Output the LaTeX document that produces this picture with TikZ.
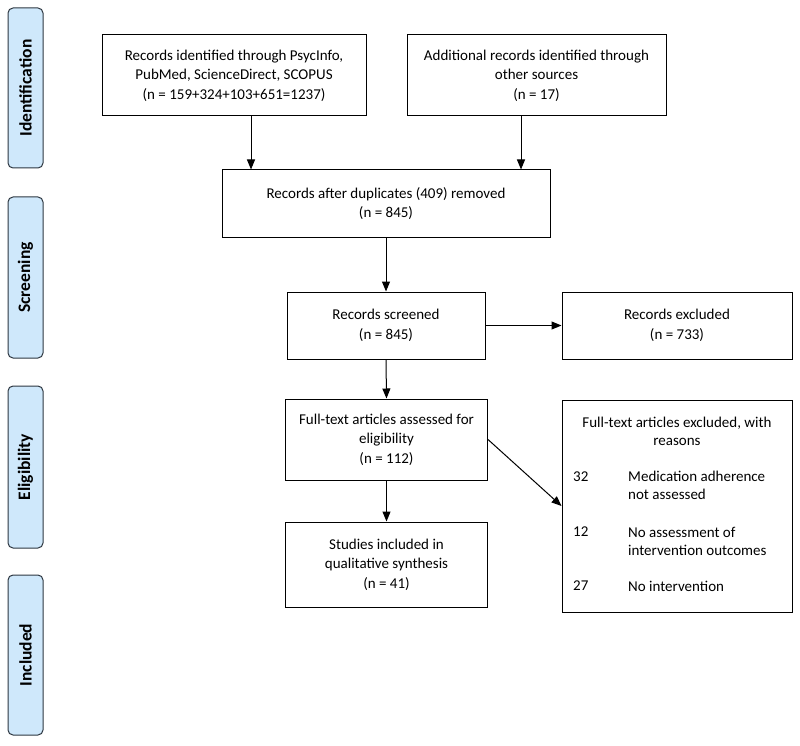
\documentclass[tikz,border=0pt]{standalone}
\usepackage{fontspec}
\setmainfont{Carlito}
\usetikzlibrary{arrows.meta}
\definecolor{sidefill}{RGB}{207,232,251}
\definecolor{sidedraw}{RGB}{45,55,65}
\begin{document}
\begin{tikzpicture}[x=1pt,y=-1pt,
  box/.style={draw, line width=1pt, rectangle, inner sep=0pt, align=center,
    font=\fontsize{15}{19.5}\selectfont},
  side/.style={draw=sidedraw, fill=sidefill, rounded corners=5pt, line width=1pt,
    rotate=90, minimum height=35pt, inner sep=0pt,
    font=\bfseries\fontsize{17.5}{20}\selectfont},
  txt/.style={inner sep=0pt, font=\fontsize{15}{18}\selectfont},
  arr/.style={-{Triangle[length=10pt,width=8pt]}, line width=1pt}]
\useasboundingbox (0,0) rectangle (800,746);

% side labels
\node[side, minimum width=160pt] (sid) at (25.5,88) {Identification};
\node[side, minimum width=161pt] (ssc) at (25.5,277.5) {Screening};
\node[side, minimum width=162pt] (sel) at (25.5,467) {Eligibility};
\node[side, minimum width=160pt] (sin) at (25.5,655) {Included};

% boxes
\node[box, minimum width=264pt, minimum height=81pt] (b1) at (234,75.5)
  {Records identified through PsycInfo,\\PubMed, ScienceDirect, SCOPUS\\(n = 159+324+103+651=1237)};
\node[box, minimum width=259pt, minimum height=81pt] (b2) at (536.5,75.5)
  {Additional records identified through\\other sources\\(n = 17)};
\node[box, minimum width=328pt, minimum height=67pt] (b3) at (386,203.5)
  {Records after duplicates (409) removed\\(n = 845)};
\node[box, minimum width=198pt, minimum height=67pt] (b4) at (386,325.5)
  {Records screened\\(n = 845)};
\node[box, minimum width=230pt, minimum height=67pt] (ex1) at (677,325.5)
  {Records excluded\\(n = 733)};
\node[box, minimum width=202pt, minimum height=81pt] (b5) at (386.5,439.5)
  {Full-text articles assessed for\\eligibility\\(n = 112)};
\node[box, minimum width=202pt, minimum height=85pt] (b6) at (386.5,564.5)
  {Studies included in\\qualitative synthesis\\(n = 41)};
\node[box, minimum width=230pt, minimum height=212pt] (ex2) at (677,506) {};

% contents of exclusion box
\node[txt, align=center] (title) at (677,431) {Full-text articles excluded, with\\reasons};
\node[txt, anchor=west] (n1) at (573,477) {32};
\node[txt, anchor=west, align=left] (t1) at (628,485.5) {Medication adherence\\not assessed};
\node[txt, anchor=west] (n2) at (573,532) {12};
\node[txt, anchor=west, align=left] (t2) at (628,541) {No assessment of\\intervention outcomes};
\node[txt, anchor=west] (n3) at (573,586) {27};
\node[txt, anchor=west] (t3) at (628,586) {No intervention};

% arrows
\draw[arr] ([xshift=17pt]b1.south) -- ([xshift=17pt]b1.south |- b3.north);
\draw[arr] ([xshift=-15.5pt]b2.south) -- ([xshift=-15.5pt]b2.south |- b3.north);
\draw[arr] (b3.south) -- (b4.north);
\draw[arr] (b4.east) -- (ex1.west);
\draw[arr] (b4.south) -- (b5.north);
\draw[arr] (b5.south) -- (b6.north);
\draw[arr] (b5.east) -- (ex2.west);
\end{tikzpicture}
\end{document}
